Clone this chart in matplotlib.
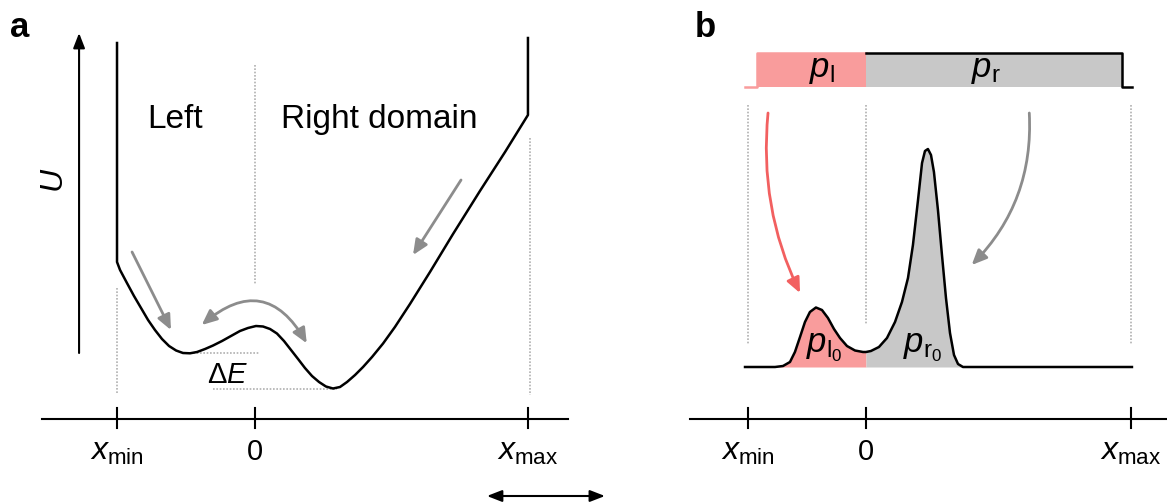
import numpy as np
import matplotlib.pyplot as plt

plt.rcParams['font.family'] = ['Liberation Sans', 'DejaVu Sans']
plt.rcParams['mathtext.fontset'] = 'custom'
plt.rcParams['mathtext.rm'] = 'Liberation Sans'
plt.rcParams['mathtext.it'] = 'Liberation Sans:italic'
plt.rcParams['mathtext.bf'] = 'Liberation Sans:bold'

# x in units where x_min = -1 and the domain boundary is 0
X_MIN = -1.0
X_MAX_A = 1.978
X_MAX_B = 2.246

# Panel a: potential U(x)
pot_x = [-1.0, -1.0, -0.978, -0.928, -0.877, -0.826, -0.775, -0.725, -0.674, -0.623,
         -0.572, -0.522, -0.471, -0.420, -0.362, -0.304, -0.239, -0.174, -0.109, -0.051,
         0.007, 0.058, 0.109, 0.159, 0.210, 0.261, 0.312, 0.362, 0.413, 0.464,
         0.514, 0.565, 0.616, 0.667, 0.725, 0.783, 0.848, 0.928, 1.014, 1.123,
         1.268, 1.435, 1.630, 1.812, 1.978, 1.978]
pot_u = [3.47, 1.28, 1.20, 1.07, 0.94, 0.82, 0.70, 0.60, 0.51, 0.44,
         0.395, 0.37, 0.367, 0.38, 0.41, 0.445, 0.49, 0.54, 0.59, 0.62,
         0.64, 0.635, 0.61, 0.565, 0.49, 0.40, 0.31, 0.22, 0.14, 0.08,
         0.035, 0.015, 0.03, 0.08, 0.15, 0.23, 0.33, 0.465, 0.63, 0.86,
         1.18, 1.56, 1.99, 2.38, 2.75, 3.52]
u_left_min = 0.367
u_right_min = 0.01

# Panel b: stationary distribution p(x)
dist_x = [-1.025, -0.771, -0.703, -0.644, -0.602, -0.559, -0.517, -0.475, -0.424, -0.373,
          -0.322, -0.271, -0.220, -0.161, -0.093, -0.025, 0.0, 0.042, 0.110, 0.178,
          0.246, 0.305, 0.356, 0.398, 0.441, 0.475, 0.500, 0.525, 0.551, 0.576,
          0.610, 0.644, 0.678, 0.712, 0.746, 0.780, 0.822, 2.254]
dist_p = [0.0, 0.0, 0.01, 0.05, 0.15, 0.30, 0.45, 0.55, 0.595, 0.57,
          0.49, 0.38, 0.29, 0.21, 0.165, 0.15, 0.15, 0.16, 0.20, 0.29,
          0.45, 0.65, 0.89, 1.22, 1.67, 2.04, 2.16, 2.18, 2.12, 1.95,
          1.57, 1.12, 0.69, 0.34, 0.12, 0.03, 0.0, 0.0]

# Panel b: initial (uniform) distribution drawn as a step on top
bar_x = [-1.025, -0.924, -0.924, 0.0, 2.169, 2.169, 2.254]
bar_y = [2.80, 2.80, 3.14, 3.14, 3.14, 2.80, 2.80]
bar_base = 2.80

RED = '#f26060'
PINK = '#f99c9c'
GREY_FILL = '#c8c8c8'
GREY_ARROW = '#8c8c8c'
DOT = '#b0b0b0'

fig = plt.figure(figsize=(11.67, 5.03), dpi=100)
ax_a = fig.add_axes([0, 0, 640 / 1167, 1])
ax_b = fig.add_axes([680 / 1167, 0, 487 / 1167, 1])
ax_a.set_xlim(-1.848, 2.790)
ax_a.set_ylim(-1.13, 3.90)
ax_b.set_xlim(-1.576, 2.551)
ax_b.set_ylim(-1.36, 3.67)
for ax in (ax_a, ax_b):
    ax.axis('off')

dotted = dict(color=DOT, lw=1.2, ls=(0, (1, 1)))


def arrow(ax, tail, head, color, rad=0.0, style='-|>,head_length=0.9,head_width=0.4', lw=2.0):
    ax.annotate('', xy=head, xytext=tail,
                arrowprops=dict(arrowstyle=style, color=color, lw=lw,
                                connectionstyle='arc3,rad=%s' % rad,
                                shrinkA=0, shrinkB=0))


# ---------------- panel a ----------------
ax_a.plot([-1, -1], [1.02, -0.03], **dotted)
ax_a.plot([0, 0], [3.25, 1.05], **dotted)
ax_a.plot([1.99, 1.99], [2.52, -0.05], **dotted)
ax_a.plot([-0.471, 0.036], [u_left_min, u_left_min], **dotted)
ax_a.plot([-0.304, 0.594], [u_right_min, u_right_min], **dotted)

ax_a.plot(pot_x, pot_u, color='black', lw=1.8, solid_joinstyle='round')

# x axis
ax_a.plot([-1.543, 2.268], [-0.29, -0.29], color='black', lw=1.5)
for xt in (X_MIN, 0, X_MAX_A):
    ax_a.plot([xt, xt], [-0.18, -0.38], color='black', lw=1.5)
ax_a.text(X_MIN, -0.70, r'$x_{\mathrm{min}}$', fontsize=23, ha='center', va='baseline')
ax_a.text(0, -0.70, '0', fontsize=21, ha='center', va='baseline')
ax_a.text(X_MAX_A, -0.70, r'$x_{\mathrm{max}}$', fontsize=23, ha='center', va='baseline')

# U axis
arrow(ax_a, (-1.275, 0.37), (-1.275, 3.57), 'black', lw=1.5,
      style='-|>,head_length=0.9,head_width=0.35')
ax_a.text(-1.45, 2.10, '$U$', fontsize=23, rotation=90, ha='center', va='center')

ax_a.text(-0.58, 2.62, 'Left', fontsize=24, ha='center', va='baseline')
ax_a.text(0.899, 2.62, 'Right domain', fontsize=24, ha='center', va='baseline')
ax_a.text(-0.196, 0.07, r'$\Delta E$', fontsize=21, ha='center', va='baseline')

arrow(ax_a, (-0.891, 1.38), (-0.609, 0.60), GREY_ARROW)
arrow(ax_a, (1.493, 2.10), (1.145, 1.35), GREY_ARROW)
arrow(ax_a, (-0.386, 0.65), (0.375, 0.467), GREY_ARROW, rad=-0.6,
      style='<|-|>,head_length=0.9,head_width=0.4')

# scale arrow under the axis
arrow(ax_a, (1.681, -1.06), (2.536, -1.06), 'black', lw=1.5,
      style='<|-|>,head_length=0.9,head_width=0.35')

# ---------------- panel b ----------------
dx = np.array(dist_x)
dp = np.array(dist_p)
left = dx <= 0
right = dx >= 0
ax_b.fill_between(dx[left], 0, dp[left], color=PINK, lw=0)
ax_b.fill_between(dx[right], 0, dp[right], color=GREY_FILL, lw=0)
ax_b.plot(dx, dp, color='black', lw=1.8)

bx = np.array(bar_x)
by = np.array(bar_y)
ax_b.fill_between(bx[1:4], bar_base, by[1:4], color=PINK, lw=0)
ax_b.fill_between(bx[3:6], bar_base, by[3:6], color=GREY_FILL, lw=0)
ax_b.plot(bx[:4], by[:4], color=PINK, lw=1.8)
ax_b.plot(bx[3:], by[3:], color='black', lw=1.8)

ax_b.plot([X_MIN, X_MIN], [2.62, 0.22], **dotted)
ax_b.plot([0, 0], [2.62, 0.42], **dotted)
ax_b.plot([X_MAX_B, X_MAX_B], [2.62, 0.22], **dotted)

ax_b.text(-0.373, 2.97, r'$p_{\mathrm{l}}$', fontsize=25, ha='center', va='center')
ax_b.text(1.02, 2.97, r'$p_{\mathrm{r}}$', fontsize=25, ha='center', va='center')
ax_b.text(-0.356, 0.20, r'$p_{\mathrm{l}_0}$', fontsize=25, ha='center', va='center')
ax_b.text(0.483, 0.20, r'$p_{\mathrm{r}_0}$', fontsize=25, ha='center', va='center')

arrow(ax_b, (-0.83, 2.54), (-0.559, 0.74), RED, rad=0.14)
arrow(ax_b, (1.384, 2.54), (0.896, 1.02), GREY_ARROW, rad=-0.22)

ax_b.plot([-1.492, 2.551], [-0.52, -0.52], color='black', lw=1.5)
for xt in (X_MIN, 0, X_MAX_B):
    ax_b.plot([xt, xt], [-0.41, -0.61], color='black', lw=1.5)
ax_b.text(X_MIN, -0.93, r'$x_{\mathrm{min}}$', fontsize=23, ha='center', va='baseline')
ax_b.text(0, -0.93, '0', fontsize=21, ha='center', va='baseline')
ax_b.text(X_MAX_B, -0.93, r'$x_{\mathrm{max}}$', fontsize=23, ha='center', va='baseline')

fig.text(10 / 1167, 1 - 37 / 503, 'a', fontsize=25, fontweight='bold', va='baseline')
fig.text(695 / 1167, 1 - 37 / 503, 'b', fontsize=25, fontweight='bold', va='baseline')

fig.savefig('out.png', dpi=100)
